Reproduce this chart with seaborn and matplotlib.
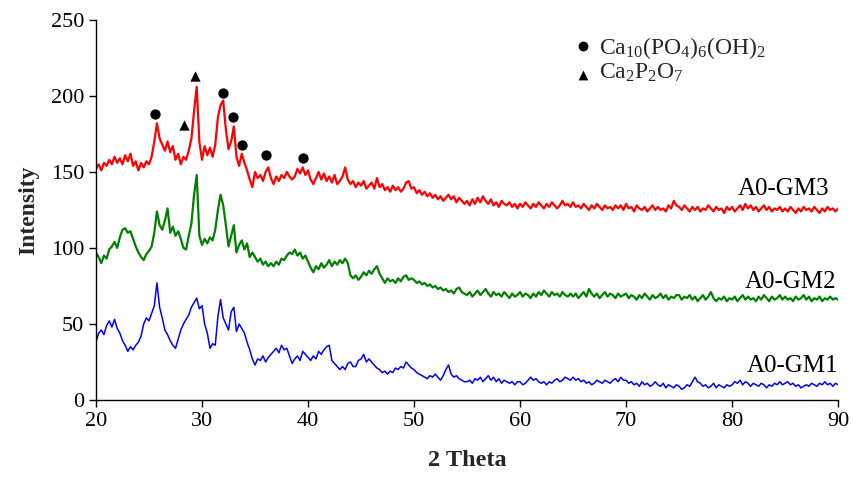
import numpy as np
import pandas as pd
import matplotlib
matplotlib.use("Agg")
import matplotlib.pyplot as plt
import seaborn as sns

# 2-theta scan grid, 0.25 deg steps
two_theta = np.arange(20.0, 90.01, 0.25)

gm3 = [
    152, 155, 151, 156, 154, 158, 155, 160, 156, 159, 155, 161, 157, 162, 154, 157, 151, 156, 153, 157,
    155, 160, 170, 182, 172, 168, 164, 170, 163, 167, 158, 162, 155, 160, 158, 164, 172, 190, 206, 170,
    158, 167, 161, 166, 160, 168, 186, 194, 197, 178, 165, 170, 180, 160, 154, 162, 156, 151, 145, 140,
    150, 146, 148, 144, 150, 153, 146, 142, 147, 144, 148, 146, 150, 147, 145, 147, 152, 149, 153, 148,
    151, 145, 142, 146, 150, 145, 149, 144, 147, 143, 148, 142, 144, 147, 153, 145, 142, 144, 140, 143,
    141, 144, 139, 141, 143, 139, 146, 140, 142, 138, 140, 137, 141, 138, 140, 137, 139, 143, 144, 139,
    140, 136, 138, 135, 137, 134, 136, 133, 135, 132, 134, 131, 133, 135, 132, 134, 130, 133, 131, 129,
    131, 128, 132, 129, 133, 130, 134, 131, 129, 132, 128, 130, 127, 131, 129, 128, 130, 127, 129, 126,
    129, 127, 130, 128, 126, 129, 127, 130, 128, 126, 129, 127, 130, 128, 126, 128, 131, 128, 129, 127,
    130, 127, 128, 126, 129, 127, 125, 128, 126, 129, 127, 125, 128, 126, 127, 125, 128, 126, 128, 125,
    129, 126, 127, 124, 128, 126, 125, 127, 124, 126, 128, 125, 127, 125, 126, 124, 128, 126, 131, 128,
    127, 125, 128, 126, 124, 127, 125, 127, 124, 126, 125, 128, 126, 124, 127, 125, 126, 123, 127, 125,
    127, 124, 126, 128, 125, 129, 126, 128, 125, 127, 124, 126, 128, 125, 127, 124, 126, 125, 127, 124,
    126, 124, 127, 125, 123, 126, 124, 127, 125, 126, 124, 127, 125, 123, 126, 124, 127, 125, 126, 124,
    126,
]

gm2 = [
    97, 94, 90, 95, 93, 99, 101, 104, 100, 107, 112, 113, 110, 111, 106, 101, 97, 94, 92, 96,
    98, 101, 110, 124, 115, 112, 118, 126, 110, 114, 108, 111, 106, 100, 99, 108, 116, 135, 148, 108,
    102, 106, 103, 107, 105, 112, 125, 135, 128, 115, 101, 108, 115, 97, 102, 105, 99, 103, 94, 97,
    94, 91, 93, 89, 91, 88, 90, 88, 91, 89, 93, 92, 95, 97, 96, 99, 95, 97, 93, 95,
    91, 87, 84, 88, 86, 90, 87, 89, 92, 88, 91, 89, 92, 90, 93, 90, 82, 80, 82, 79,
    81, 84, 82, 85, 83, 86, 88, 83, 80, 77, 80, 78, 79, 77, 80, 78, 81, 82, 79, 80,
    79, 77, 78, 76, 77, 75, 76, 74, 75, 73, 74, 72, 73, 71, 72, 70, 73, 74, 71, 70,
    69, 71, 68, 70, 72, 69, 71, 73, 70, 68, 71, 69, 70, 68, 71, 69, 67, 70, 68, 69,
    71, 68, 70, 69, 67, 70, 68, 71, 69, 72, 70, 68, 71, 69, 70, 68, 71, 69, 68, 70,
    68, 70, 67, 69, 71, 68, 73, 70, 68, 70, 67, 69, 71, 68, 70, 69, 67, 70, 68, 69,
    70, 67, 69, 68, 66, 69, 67, 70, 68, 66, 69, 67, 68, 70, 67, 69, 66, 68, 67, 69,
    69, 66, 68, 67, 69, 66, 68, 65, 67, 69, 66, 68, 71, 67, 65, 67, 66, 68, 65, 67,
    66, 68, 65, 67, 69, 66, 68, 66, 67, 65, 68, 66, 69, 67, 65, 68, 66, 67, 69, 66,
    68, 66, 67, 65, 68, 66, 67, 69, 66, 68, 65, 67, 66, 68, 65, 67, 66, 68, 66, 67,
    66,
]

gm1 = [
    38, 44, 46, 43, 49, 52, 48, 53, 47, 44, 39, 36, 32, 35, 33, 36, 38, 42, 50, 54,
    52, 57, 62, 77, 61, 54, 46, 43, 39, 36, 34, 40, 46, 50, 53, 56, 61, 64, 67, 60,
    62, 50, 44, 34, 37, 36, 55, 66, 54, 50, 46, 58, 61, 45, 50, 47, 44, 38, 33, 27,
    23, 27, 26, 29, 25, 28, 30, 32, 34, 31, 36, 33, 34, 29, 24, 27, 29, 26, 32, 30,
    28, 26, 29, 27, 32, 30, 33, 35, 36, 26, 24, 22, 20, 22, 20, 24, 25, 22, 22, 26,
    27, 30, 25, 27, 25, 23, 21, 20, 18, 19, 17, 19, 18, 21, 20, 22, 21, 25, 23, 21,
    20, 18, 17, 16, 15, 14, 16, 15, 17, 15, 13, 16, 20, 23, 17, 15, 16, 14, 13, 12,
    12, 13, 11, 14, 13, 15, 12, 14, 16, 13, 15, 12, 14, 11, 13, 12, 11, 12, 10, 12,
    12, 10, 11, 13, 15, 13, 14, 12, 11, 12, 10, 12, 11, 13, 14, 12, 13, 15, 14, 13,
    15, 13, 14, 12, 13, 11, 12, 10, 11, 13, 12, 11, 13, 12, 11, 13, 14, 12, 15, 13,
    13, 11, 12, 10, 11, 9, 12, 10, 11, 9, 10, 12, 10, 9, 11, 8, 10, 9, 8, 10,
    9, 7, 8, 10, 9, 12, 15, 12, 11, 9, 10, 8, 9, 11, 8, 10, 9, 8, 10, 9,
    10, 12, 11, 13, 10, 12, 11, 9, 11, 10, 9, 11, 10, 8, 10, 9, 11, 10, 12, 10,
    11, 12, 10, 11, 9, 10, 8, 9, 10, 9, 11, 10, 9, 11, 10, 12, 10, 11, 9, 11,
    10,
]

# Phase peak markers
hap_x = [25.6, 32.0, 32.9, 33.8, 36.0, 39.5]
hap_y = [188, 202, 186, 168, 161, 159]
pyro_x = [28.3, 29.3]
pyro_y = [181, 213]

series_names = ["A0-GM3", "A0-GM2", "A0-GM1"]
series_colors = ["#FF0000", "#008000", "#0000FF"]
series_widths = [1.6, 1.6, 1.1]
label_x = [80.5, 81.2, 81.4]
label_y = [135, 73.5, 18.2]

x_ticks = [20, 30, 40, 50, 60, 70, 80, 90]
y_ticks = [0, 50, 100, 150, 200, 250]

sns.set_style("ticks")
plt.rcParams["font.family"] = ["Liberation Serif", "DejaVu Serif"]
plt.rcParams["mathtext.fontset"] = "custom"
plt.rcParams["mathtext.rm"] = "Liberation Serif"
plt.rcParams["mathtext.it"] = "Liberation Serif:italic"
plt.rcParams["mathtext.bf"] = "Liberation Serif:bold"

fig = plt.figure(figsize=(8.54, 4.86), dpi=100)
ax = fig.add_axes([0.1124, 0.177, 0.869, 0.782])

df = pd.DataFrame({"two_theta": two_theta, "A0-GM3": gm3, "A0-GM2": gm2, "A0-GM1": gm1})

for name, col, lw in zip(series_names, series_colors, series_widths):
    sns.lineplot(data=df, x="two_theta", y=name, color=col, linewidth=lw,
                 estimator=None, ax=ax)

sns.scatterplot(x=hap_x, y=hap_y, marker="o", color="black", s=55,
                edgecolor="black", linewidth=0, ax=ax, zorder=5)
sns.scatterplot(x=pyro_x, y=pyro_y, marker="^", color="black", s=55,
                edgecolor="black", linewidth=0, ax=ax, zorder=5)

for name, xx, yy in zip(series_names, label_x, label_y):
    ax.text(xx, yy, name, ha="left", va="baseline", fontsize=18, color="black")

# Phase key
ax.scatter([65.9], [232.7], marker="o", color="black", s=50, linewidth=0, clip_on=False)
ax.scatter([65.9], [213.5], marker="^", color="black", s=50, linewidth=0, clip_on=False)
ax.text(67.4, 227.4, r"Ca$\mathregular{_{10}}$(PO$\mathregular{_4}$)$\mathregular{_6}$(OH)$\mathregular{_2}$",
        ha="left", va="baseline", fontsize=17)
ax.text(67.4, 211.6, r"Ca$\mathregular{_2}$P$\mathregular{_2}$O$\mathregular{_7}$",
        ha="left", va="baseline", fontsize=17)

ax.set_xlim(20, 90)
ax.set_ylim(0, 250)
ax.set_xticks(x_ticks)
ax.set_yticks(y_ticks)
ax.tick_params(axis="both", direction="out", length=5, width=1, labelsize=16, colors="black")
ax.set_xlabel("2 Theta", fontsize=17.5, fontweight="bold", labelpad=14)
ax.set_ylabel("Intensity", fontsize=17, fontweight="bold", labelpad=8)
for side in ["top", "right"]:
    ax.spines[side].set_visible(False)
for side in ["left", "bottom"]:
    ax.spines[side].set_color("black")
    ax.spines[side].set_linewidth(1.0)

fig.savefig("out.png", dpi=100)
